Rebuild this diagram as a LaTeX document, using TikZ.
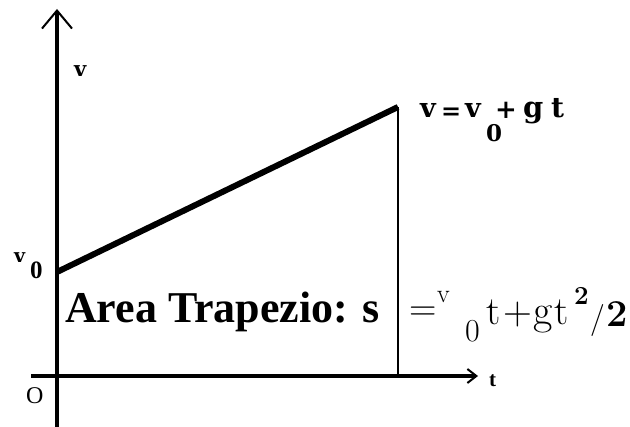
\documentclass[tikz,border=0pt]{standalone}
\usepackage{fontspec}
\setmainfont{Liberation Serif}
\newfontfamily\lmfont{Latin Modern Roman}
\newfontfamily\dvfont{DejaVu Serif}
\usetikzlibrary{arrows.meta}
\newcommand{\fsz}[1]{\fontsize{#1}{#1}\selectfont}
\begin{document}
\begin{tikzpicture}[x=1pt,y=-1pt,
  axis/.style={line width=4.5pt},
  lbl/.style={inner sep=0pt, anchor=base west},
  lm/.style={lbl, font=\lmfont\fsz{#1}},
  lmb/.style={lbl, font=\lmfont\bfseries\fsz{#1}},
  dv/.style={lbl, font=\dvfont\bfseries\fsz{#1}},
]
\useasboundingbox (0,0) rectangle (630,427);
\coordinate (ytop) at (57,9);
\coordinate (ybot) at (57,427);
\coordinate (xl) at (31,376);
\coordinate (xr) at (478,376);
\coordinate (p0) at (57,272);
\coordinate (p1) at (398,107);
\coordinate (pf) at (398,376);
\draw[axis, -{Straight Barb[length=18pt,width=30pt,line width=2pt]}] (ybot) -- (ytop);
\draw[axis, -{Straight Barb[length=9pt,width=14pt,line width=2pt]}] (xl) -- (xr);
\draw[line width=2.2pt] (pf) -- (p1);
\draw[line width=6pt] (p0) -- (p1);
% axis labels
\node[dv=21] (vlab) at (74,77) {v};
\node[lbl, font=\bfseries\fsz{21}] (tlab) at (489,387) {t};
\node[lbl, font=\fsz{24}] (olab) at (26,404) {O};
\node[dv=19] (v0v) at (14,263) {v};
\node[lbl, font=\bfseries\fsz{25}] (v0z) at (30,279) {0};
% v = v0 + gt
\node[dv=27] (ev1) at (420,118) {v};
\node[dv=24] (eeq) at (441,120) {=};
\node[dv=27] (ev2) at (465,118) {v};
\node[dv=23] (ezero) at (486,142) {0};
\node[dv=26] (eplus) at (495,119) {+};
\node[dv=29] (eg) at (523,118) {g};
\node[dv=28] (et) at (551,118) {t};
% area
\node[lbl, font=\bfseries\fsz{44}] (area) at (65,323) {Area Trapezio: s};
% = v0 t + g t^2 / 2
\node[lm=38] (eq) at (409,321) {=};
\node[lm=26] (sv) at (437,303) {v};
\node[lm=32] (s0) at (465,342) {0};
\node[lm=40] (st1) at (486,325) {t};
\node[lm=40] (splus) at (503,325) {+};
\node[lm=42] (sg) at (533,325) {g};
\node[lm=40] (st2) at (554,325) {t};
\node[lmb=26] (ssup) at (574,305) {2};
\node[lm=32] (sslash) at (590,329) {/};
\node[lmb=38] (stwo) at (606,327) {2};
\end{tikzpicture}
\end{document}
